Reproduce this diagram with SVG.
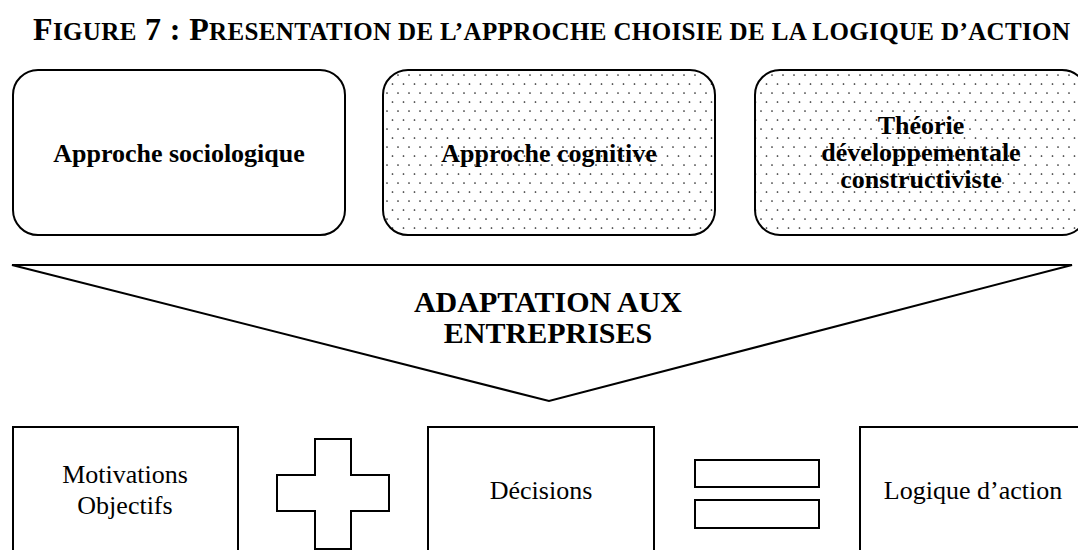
<svg xmlns="http://www.w3.org/2000/svg" width="1078" height="550" viewBox="0 0 1078 550">
<style>
text{font-family:"Liberation Serif","Times New Roman",serif;fill:#000;text-anchor:middle}
.b{font-weight:bold;font-size:26px}
.n{font-size:26px}
.big{font-weight:bold;font-size:30px}
.shape{fill:#fff;stroke:#000;stroke-width:2}
.dotted{fill:url(#dots);stroke:#000;stroke-width:2}
.title{font-weight:bold;text-anchor:start}
</style>
<defs>
<pattern id="dots" patternUnits="userSpaceOnUse" x="0" y="0" width="11" height="18">
<rect width="11" height="18" fill="#fff"/>
<circle cx="2" cy="3" r="0.85" fill="#222"/>
<circle cx="7.5" cy="12" r="0.85" fill="#222"/>
</pattern>
</defs>
<rect width="1078" height="550" fill="#fff"/>
<g id="title">
<text class="title" x="33" y="40" textLength="1037" lengthAdjust="spacing"><tspan font-size="32">F</tspan><tspan font-size="25">IGURE</tspan><tspan font-size="32"> 7 : P</tspan><tspan font-size="25">RESENTATION DE L’APPROCHE CHOISIE DE LA LOGIQUE D’ACTION</tspan></text>
</g>
<g id="approche-sociologique">
<rect class="shape" x="13" y="70" width="332" height="165" rx="25"/>
<text class="b" x="179" y="162">Approche sociologique</text>
</g>
<g id="approche-cognitive">
<rect class="dotted" x="383" y="70" width="332" height="165" rx="25"/>
<text class="b" x="549" y="162">Approche cognitive</text>
</g>
<g id="theorie">
<rect class="dotted" x="755" y="70" width="332" height="165" rx="25"/>
<text class="b" x="921" y="134">Théorie</text>
<text class="b" x="921" y="161">développementale</text>
<text class="b" x="921" y="188">constructiviste</text>
</g>
<g id="adaptation">
<polygon class="shape" points="12,265 1072,265 549,401" stroke-linejoin="miter"/>
<text class="big" x="548" y="312">ADAPTATION AUX</text>
<text class="big" x="548" y="343">ENTREPRISES</text>
</g>
<g id="motivations">
<rect class="shape" x="13" y="427" width="225" height="135"/>
<text class="n" x="125" y="483">Motivations</text>
<text class="n" x="125" y="514">Objectifs</text>
</g>
<g id="plus">
<polygon class="shape" points="315,439 351,439 351,475 389,475 389,511 351,511 351,549 315,549 315,511 277,511 277,475 315,475"/>
</g>
<g id="decisions">
<rect class="shape" x="428" y="427" width="226" height="135"/>
<text class="n" x="541" y="499">Décisions</text>
</g>
<g id="egal">
<rect class="shape" x="695" y="460" width="124" height="27"/>
<rect class="shape" x="695" y="500" width="124" height="28"/>
</g>
<g id="logique">
<rect class="shape" x="860" y="427" width="226" height="135"/>
<text class="n" x="973" y="499">Logique d’action</text>
</g>
<g id="connectors"></g>
</svg>
